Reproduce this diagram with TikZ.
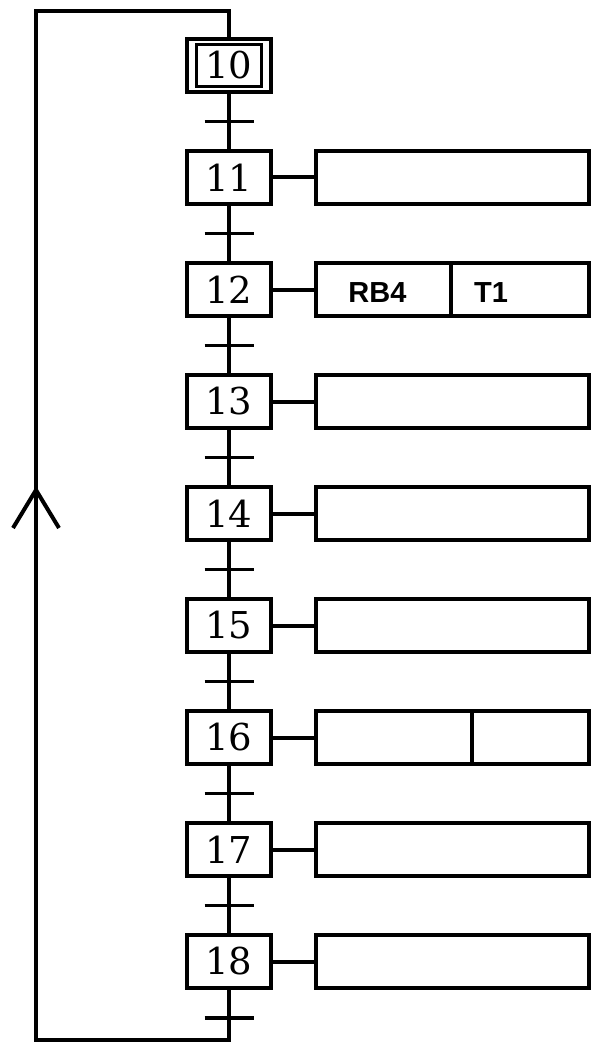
\documentclass[tikz,border=0pt]{standalone}
\usepackage{fontspec}
\newfontfamily\stepfont{DejaVu Serif}
\newfontfamily\actfont{Liberation Sans}
\usetikzlibrary{calc}
\begin{document}
\begin{tikzpicture}[x=1pt,y=-1pt,line join=miter,
  stepbox/.style={draw,line width=4pt,minimum width=84pt,minimum height=53pt,inner sep=0pt,font=\stepfont\fontsize{37}{40}\selectfont},
  actbox/.style={draw,line width=4pt,minimum width=273pt,minimum height=53pt,inner sep=0pt},
  acttext/.style={font=\actfont\bfseries\fontsize{29}{32}\selectfont,inner sep=0pt},
  link/.style={line width=4pt},
  trans/.style={line width=3.5pt}]
\useasboundingbox (0,0) rectangle (594,1043);
% initial step 10
\node[stepbox] (s10) at (229,65.5) {};
\node[draw,line width=3pt,minimum width=65pt,minimum height=42pt,inner sep=0pt,font=\stepfont\fontsize{37}{40}\selectfont] (s10i) at (229,65.5) {10};
% steps
\foreach \n [count=\k from 1] in {11,12,13,14,15,16,17,18}{
  \node[stepbox] (s\n) at (229,65.5+112*\k) {\n};
  \node[actbox] (a\n) at (452.5,65.5+112*\k) {};
  \draw[link] (s\n.east) -- (a\n.west);
}
% transitions and links
\foreach \a/\b in {10/11,11/12,12/13,13/14,14/15,15/16,16/17,17/18}{
  \coordinate (t\a) at ($(s\a.south)!0.5!(s\b.north)$);
  \draw[link] (s\a.south) -- (s\b.north);
  \draw[trans] ([xshift=-24.5pt]t\a) -- ([xshift=24.5pt]t\a);
}
\coordinate (t18) at (229,1018);
\draw[trans] ([xshift=-24.5pt]t18) -- ([xshift=24.5pt]t18);
% loop back
\coordinate (c1) at (229,1039.5);
\coordinate (c2) at (36,1039.5);
\coordinate (c3) at (36,11);
\coordinate (c4) at (229,11);
\draw[link] (s18.south) -- (c1) -- (c2) -- (c3) -- (c4) -- (s10.north);
% arrow on the loop
\coordinate (tip) at (36,490);
\draw[link] (13,528) -- (tip) -- (59,528);
% action contents
\draw[link] (451,263) -- (451,318);
\node[acttext] (rb4) at (377.5,293) {RB4};
\node[acttext] (t1) at (491,293) {T1};
\draw[link] ($(a16.north)+(19.5,0)$) -- ($(a16.south)+(19.5,0)$);
\end{tikzpicture}
\end{document}
